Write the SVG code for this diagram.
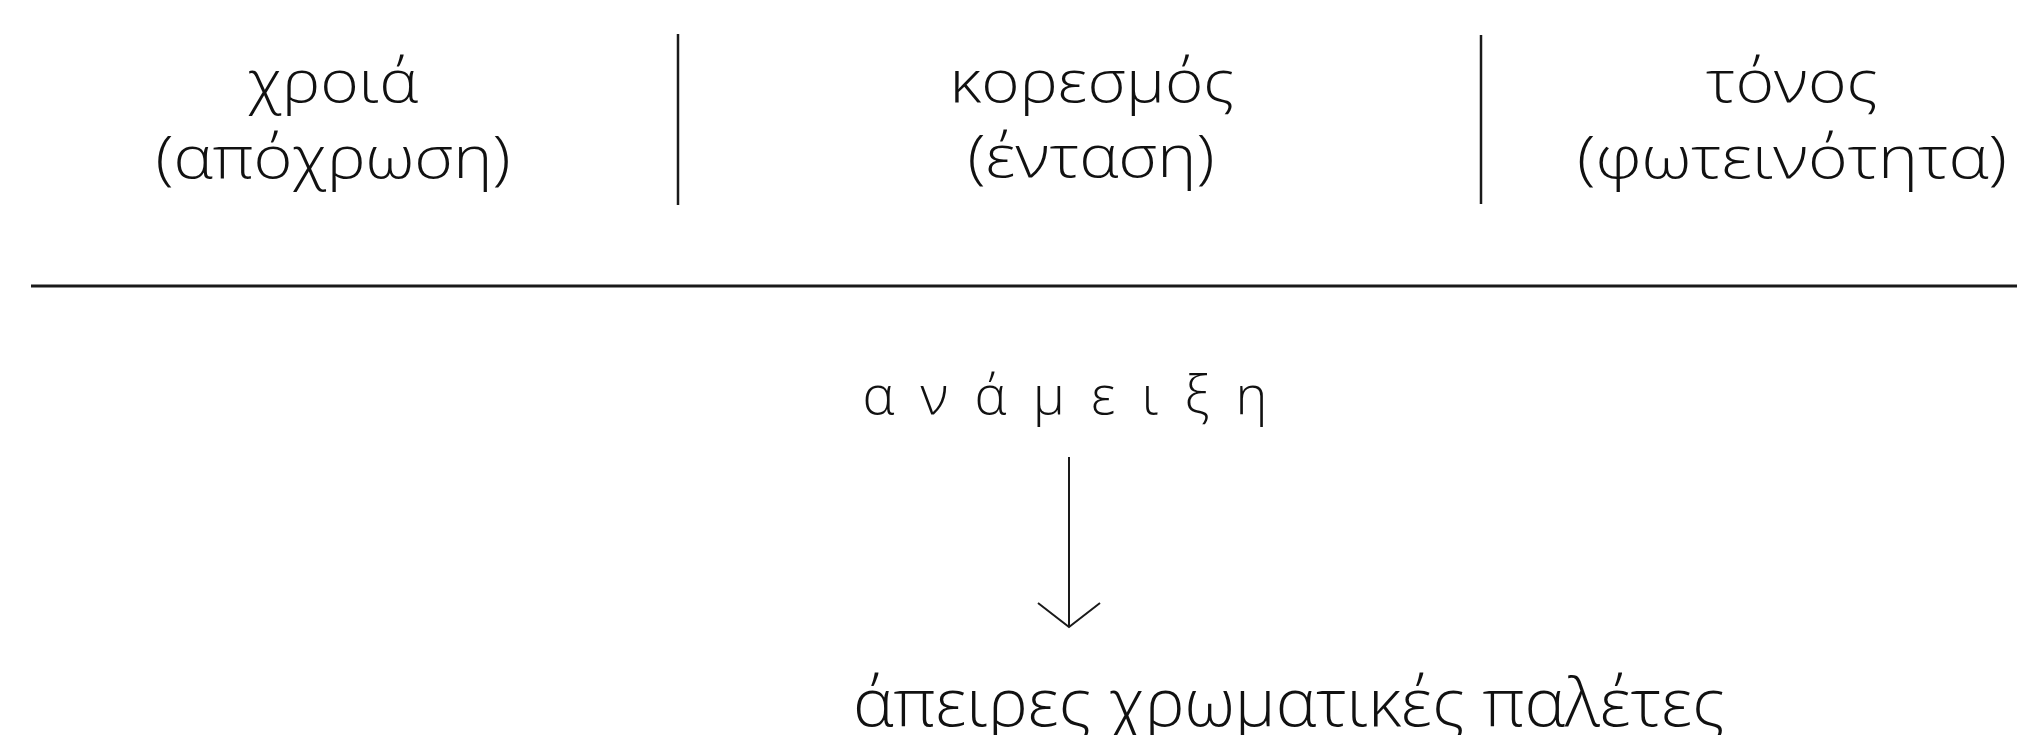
<svg xmlns="http://www.w3.org/2000/svg" width="2017" height="735" viewBox="0 0 2017 735">
<style>
text{font-family:"Open Sans","Noto Sans","DejaVu Sans",sans-serif;font-weight:300;fill:#111}
.h{font-size:58px;text-anchor:middle}
.m{font-size:54px;text-anchor:middle}
.b{font-size:66px}
.ln{stroke:#1a1a1a;fill:none}
</style>
<rect width="2017" height="735" fill="#fff"/>
<g id="hue"><text class="h" x="333" y="102" textLength="170" lengthAdjust="spacingAndGlyphs">χροιά</text><text class="h" x="333" y="178" textLength="355" lengthAdjust="spacingAndGlyphs">(απόχρωση)</text></g>
<g id="saturation"><text class="h" x="1092" y="102" textLength="285" lengthAdjust="spacingAndGlyphs">κορεσμός</text><text class="h" x="1091" y="177" textLength="247" lengthAdjust="spacingAndGlyphs">(ένταση)</text></g>
<g id="tone"><text class="h" x="1792" y="102" textLength="172" lengthAdjust="spacingAndGlyphs">τόνος</text><text class="h" x="1792" y="178" textLength="430" lengthAdjust="spacingAndGlyphs">(φωτεινότητα)</text></g>
<g id="mixing"><text class="m" x="1065" y="414" textLength="405" lengthAdjust="spacing">α ν ά μ ε ι ξ η</text></g>
<g id="palettes"><text class="b" x="853" y="726" textLength="872" lengthAdjust="spacingAndGlyphs">άπειρες χρωματικές παλέτες</text></g>
<g id="connectors">
<line class="ln" x1="678" y1="34" x2="678" y2="205" stroke-width="2.5"/>
<line class="ln" x1="1481" y1="35" x2="1481" y2="204" stroke-width="2.5"/>
<line class="ln" x1="31" y1="286" x2="2017" y2="286" stroke-width="3"/>
<line class="ln" x1="1069" y1="457" x2="1069" y2="626" stroke-width="2"/>
<polyline class="ln" points="1038,603 1069,627 1100,603" stroke-width="2"/>
</g>
</svg>
